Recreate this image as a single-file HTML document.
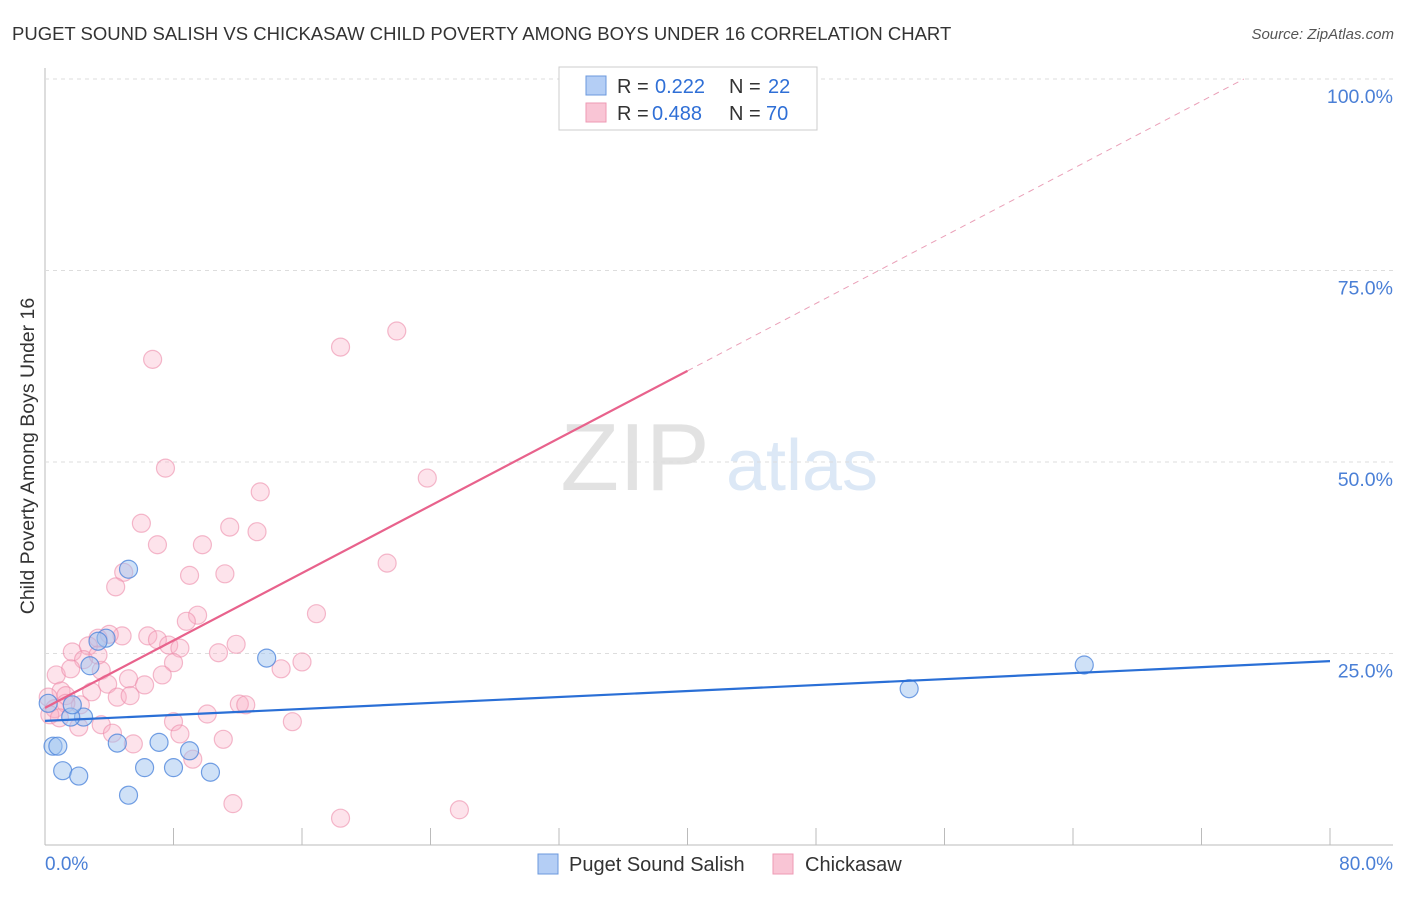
<!DOCTYPE html>
<html><head><meta charset="utf-8"><style>
body{margin:0;background:#fff;font-family:"Liberation Sans",sans-serif;}
svg text{font-family:"Liberation Sans",sans-serif;}
</style></head><body>
<svg id="c" width="1406" height="892" xmlns="http://www.w3.org/2000/svg">
<text x="12" y="40" font-size="18.5" fill="#333">PUGET SOUND SALISH VS CHICKASAW CHILD POVERTY AMONG BOYS UNDER 16 CORRELATION CHART</text>
<text x="1394" y="39" font-size="15" fill="#555" text-anchor="end" font-style="italic">Source: ZipAtlas.com</text>
<text x="34" y="456" font-size="19.5" fill="#333" text-anchor="middle" transform="rotate(-90 34 456)">Child Poverty Among Boys Under 16</text>
<text x="635" y="490" font-size="96" fill="#e2e2e2" font-family="Liberation Serif" text-anchor="middle">ZIP</text>
<text x="802" y="490" font-size="72" fill="#dce8f6" text-anchor="middle">atlas</text>
<g id="grid"></g><g id="pts"></g><g id="trend"></g>
<g>
<rect x="559" y="67" width="258" height="63" fill="#fff" stroke="#ccc"/>
<rect x="586" y="76" width="20" height="19" fill="#b4cef5" stroke="#6b98dd"/>
<rect x="586" y="103" width="20" height="19" fill="#f9c5d5" stroke="#ee9ab4"/>
<text x="617" y="93" font-size="20" fill="#333">R = </text><text x="655" y="93" font-size="20" fill="#2f6fd6">0.222</text>
<text x="729" y="93" font-size="20" fill="#333">N = </text><text x="768" y="93" font-size="20" fill="#2f6fd6">22</text>
<text x="617" y="120" font-size="20" fill="#333">R = </text><text x="652" y="120" font-size="20" fill="#2f6fd6">0.488</text>
<text x="729" y="120" font-size="20" fill="#333">N = </text><text x="766" y="120" font-size="20" fill="#2f6fd6">70</text>
</g>
<g>
<rect x="538" y="854" width="20" height="20" fill="#b4cef5" stroke="#6b98dd"/>
<text x="569" y="871" font-size="20" fill="#333">Puget Sound Salish</text>
<rect x="773" y="854" width="20" height="20" fill="#f9c5d5" stroke="#ee9ab4"/>
<text x="805" y="871" font-size="20" fill="#333">Chickasaw</text>
</g>
</svg>
<script>
const xTicks=[0,8,16,24,32,40,48,56,64,72,80];
const yTicks=[25,50,75,100];
const yTickLabels=["25.0%","50.0%","75.0%","100.0%"];
const xLabels=["0.0%","80.0%"];
const blueX=[0.5,0.8,1.1,2.1,5.2,6.2,8.0,10.3,7.1,9.0,4.5,2.4,1.6,1.7,2.8,3.8,3.3,5.2,13.8,53.8,64.7,0.2];
const blueY=[12.9,12.9,9.7,9.0,6.5,10.1,10.1,9.5,13.4,12.3,13.3,16.7,16.7,18.3,23.4,27.0,26.6,36.0,24.4,20.4,23.5,18.5];
const pinkX=[6.7,21.9,18.4,7.5,23.8,13.4,6.0,11.5,13.2,7.0,9.8,21.3,4.9,9.0,11.2,4.4,9.5,16.9,8.8,6.4,4.8,4.0,3.3,2.7,7.0,7.7,8.4,11.9,1.7,2.4,8.0,10.8,16.0,14.7,0.7,1.6,3.5,3.9,5.2,6.2,7.3,2.9,1.0,4.5,5.3,1.3,0.2,0.6,2.2,0.3,12.1,12.5,10.1,15.4,8.0,3.5,2.1,4.2,8.4,11.1,5.5,9.2,11.7,18.4,25.8,36.9,1.3,0.9,3.3];
const pinkY=[63.4,67.1,65.0,49.2,47.9,46.1,42.0,41.5,40.9,39.2,39.2,36.8,35.6,35.2,35.4,33.7,30.0,30.2,29.2,27.3,27.3,27.5,27.0,26.0,26.8,26.1,25.7,26.2,25.2,24.2,23.8,25.1,23.9,23.0,22.2,23.0,22.8,21.0,21.7,20.9,22.2,20.0,20.1,19.3,19.5,19.5,19.3,17.8,18.3,17.0,18.4,18.3,17.1,16.1,16.1,15.7,15.4,14.6,14.5,13.8,13.2,11.2,5.4,3.5,4.6,100,18.5,16.6,24.8];
const blueTrend=[16.2,24.0];
const pinkTrend=[17.9,61.9];
const NS="http://www.w3.org/2000/svg";
const sx=v=>45+v/80*1285, sy=v=>845-v*7.66;
function mk(t,a,p){const e=document.createElementNS(NS,t);for(const k in a)e.setAttribute(k,a[k]);p.appendChild(e);return e;}
const g=document.getElementById('grid');
let ax=mk('line',{x1:45,y1:68,x2:45,y2:845,stroke:'#bbb'},g);


let bx=mk('line',{x1:45,y1:845,x2:1393,y2:845,stroke:'#bbb'},g);


xTicks.forEach(t=>{const l=mk('line',{x1:sx(t),y1:828,x2:sx(t),y2:845,stroke:'#bbb'},g);

});
yTicks.forEach((t,i)=>{const l=mk('line',{x1:45,y1:sy(t),x2:1393,y2:sy(t),stroke:'#ddd','stroke-dasharray':'4,4'},g);


const tx=mk('text',{x:1393,y:sy(t)+24,'font-size':19.5,fill:'#4a7fd6','text-anchor':'end'},g);tx.textContent=yTickLabels[i];

});
[[0,'start',45],[80,'end',1393]].forEach((d,i)=>{const tx=mk('text',{x:d[2],y:870,'font-size':19,fill:'#4a7fd6','text-anchor':d[1]},g);tx.textContent=xLabels[i];

});
const p=document.getElementById('pts');
pinkX.forEach((x,i)=>{const c=mk('circle',{cx:sx(x),cy:sy(pinkY[i]),r:9,fill:'rgba(248,175,197,0.35)',stroke:'rgba(236,140,170,0.6)','stroke-width':1.2},p);

});
blueX.forEach((x,i)=>{const c=mk('circle',{cx:sx(x),cy:sy(blueY[i]),r:9,fill:'rgba(160,195,240,0.5)',stroke:'rgba(80,135,220,0.8)','stroke-width':1.2},p);

});
const tr=document.getElementById('trend');
const ps=(pinkTrend[1]-pinkTrend[0])/40;
const xEnd=(100-pinkTrend[0])/ps;
let d1=mk('line',{x1:sx(40),y1:sy(pinkTrend[1]),x2:sx(xEnd),y2:sy(100),stroke:'#eaa0b8','stroke-width':1,'stroke-dasharray':'6,5'},tr);


let l1=mk('line',{x1:sx(0),y1:sy(pinkTrend[0]),x2:sx(40),y2:sy(pinkTrend[1]),stroke:'#e8628c','stroke-width':2.2},tr);


let l2=mk('line',{x1:sx(0),y1:sy(blueTrend[0]),x2:sx(80),y2:sy(blueTrend[1]),stroke:'#2a6fd6','stroke-width':2.2},tr);


</script>
</body></html>
